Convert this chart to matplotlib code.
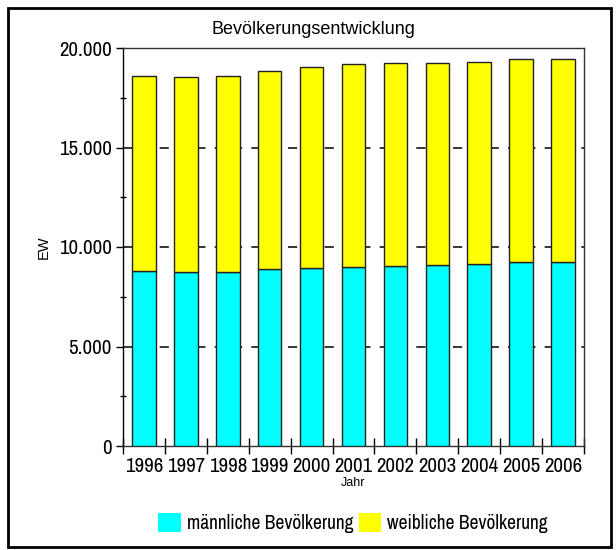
import matplotlib
matplotlib.use("Agg")
import matplotlib.pyplot as plt
from matplotlib.patches import Rectangle, Patch
from matplotlib import font_manager as fm
import numpy as np

years = ["1996", "1997", "1998", "1999", "2000", "2001", "2002", "2003", "2004", "2005", "2006"]
male = [8790, 8740, 8740, 8890, 8940, 9020, 9070, 9090, 9140, 9255, 9240]
total = [18600, 18550, 18600, 18850, 19055, 19185, 19270, 19255, 19305, 19455, 19455]
female = [t - m for t, m in zip(total, male)]
y_ticks = [0, 5000, 10000, 15000, 20000]
y_ticklabels = ["0", "5.000", "10.000", "15.000", "20.000"]

# find a condensed / narrow font
cands = []
for f in fm.fontManager.ttflist:
    nm = (f.name + ' ' + f.fname).lower()
    st = str(f.stretch).lower()
    if f.style != 'normal' or f.weight not in (400, 'normal', 'regular', 'book'):
        continue
    if 'narrow' in nm or 'condensed' in nm or st in ('condensed', 'semi-condensed', 'extra-condensed', '500', '600', '700'):
        if 'semi' in nm or 'semicondensed' in nm:
            rank = 3
        elif 'narrow' in nm:
            rank = 0
        elif 'roboto' in nm:
            rank = 1
        elif 'dejavu' in nm:
            rank = 4
        else:
            rank = 2
        cands.append((rank, f.fname, f.name))
cands.sort()
if cands:
    cond_file = cands[0][1]
    COND = lambda size: fm.FontProperties(fname=cond_file, size=size)
else:
    COND = lambda size: fm.FontProperties(family='DejaVu Sans', size=size * 0.8)

REG = ['Liberation Sans', 'DejaVu Sans']
CYAN = '#00FFFF'
YELLOW = '#FFFF00'

fig = plt.figure(figsize=(6.16, 5.5), dpi=100)
ax = fig.add_axes([123/616, 1-446/550, (584-123)/616, (446-48)/550])

x = np.arange(len(years))
w = 0.56
ax.bar(x, male, width=w, color=CYAN, edgecolor='#222222', linewidth=1, zorder=3,
       label='männliche Bevölkerung')
ax.bar(x, female, width=w, bottom=male, color=YELLOW, edgecolor='#222222', linewidth=1, zorder=3,
       label='weibliche Bevölkerung')

ax.set_xlim(-0.5, len(years) - 0.5)
ax.set_ylim(0, 20000)

for v in y_ticks[1:-1]:
    ax.axhline(v, color='black', linewidth=1.1, dashes=(6, 6), zorder=1)

ax.set_yticks(y_ticks)
ax.set_yticklabels(y_ticklabels, fontproperties=COND(15))
ax.set_yticks([2500, 7500, 12500, 17500], minor=True)
ax.tick_params(axis='y', which='major', direction='out', length=5, width=1, pad=3)
ax.tick_params(axis='y', which='minor', direction='inout', length=5, width=1)

ax.set_xticks(np.arange(-0.5, len(years), 1.0))
ax.set_xticklabels([])
ax.set_xticks(x, minor=True)
ax.set_xticklabels(years, minor=True, fontproperties=COND(15))
ax.tick_params(axis='x', which='major', direction='inout', length=12, width=1)
ax.tick_params(axis='x', which='minor', length=0, pad=8)

for s in ax.spines.values():
    s.set_linewidth(1)
    s.set_color('#333333')
ax.spines['left'].set_color('black')

ax.set_ylabel('EW', family=REG, fontsize=10.5, labelpad=6)
ax.set_xlabel('Jahr', family=REG, fontsize=9, labelpad=1)
fig.text(313/616, 1-30/550, 'Bevölkerungsentwicklung', family=REG, fontsize=13,
         ha='center', va='center')

handles = [Patch(facecolor=CYAN, edgecolor='none'), Patch(facecolor=YELLOW, edgecolor='none')]
fig.legend(handles, ['männliche Bevölkerung', 'weibliche Bevölkerung'], loc='center',
           bbox_to_anchor=(353/616, 1-523/550), ncol=2, frameon=False,
           prop=COND(14), handlelength=1.15, handleheight=1.15,
           handletextpad=0.3, columnspacing=0.3, borderaxespad=0)

fig.add_artist(Rectangle((8/616, 1-547/550), (611-8)/616, (547-8)/550, transform=fig.transFigure,
                         fill=False, edgecolor='black', linewidth=2))

fig.savefig('out.png', dpi=100)
